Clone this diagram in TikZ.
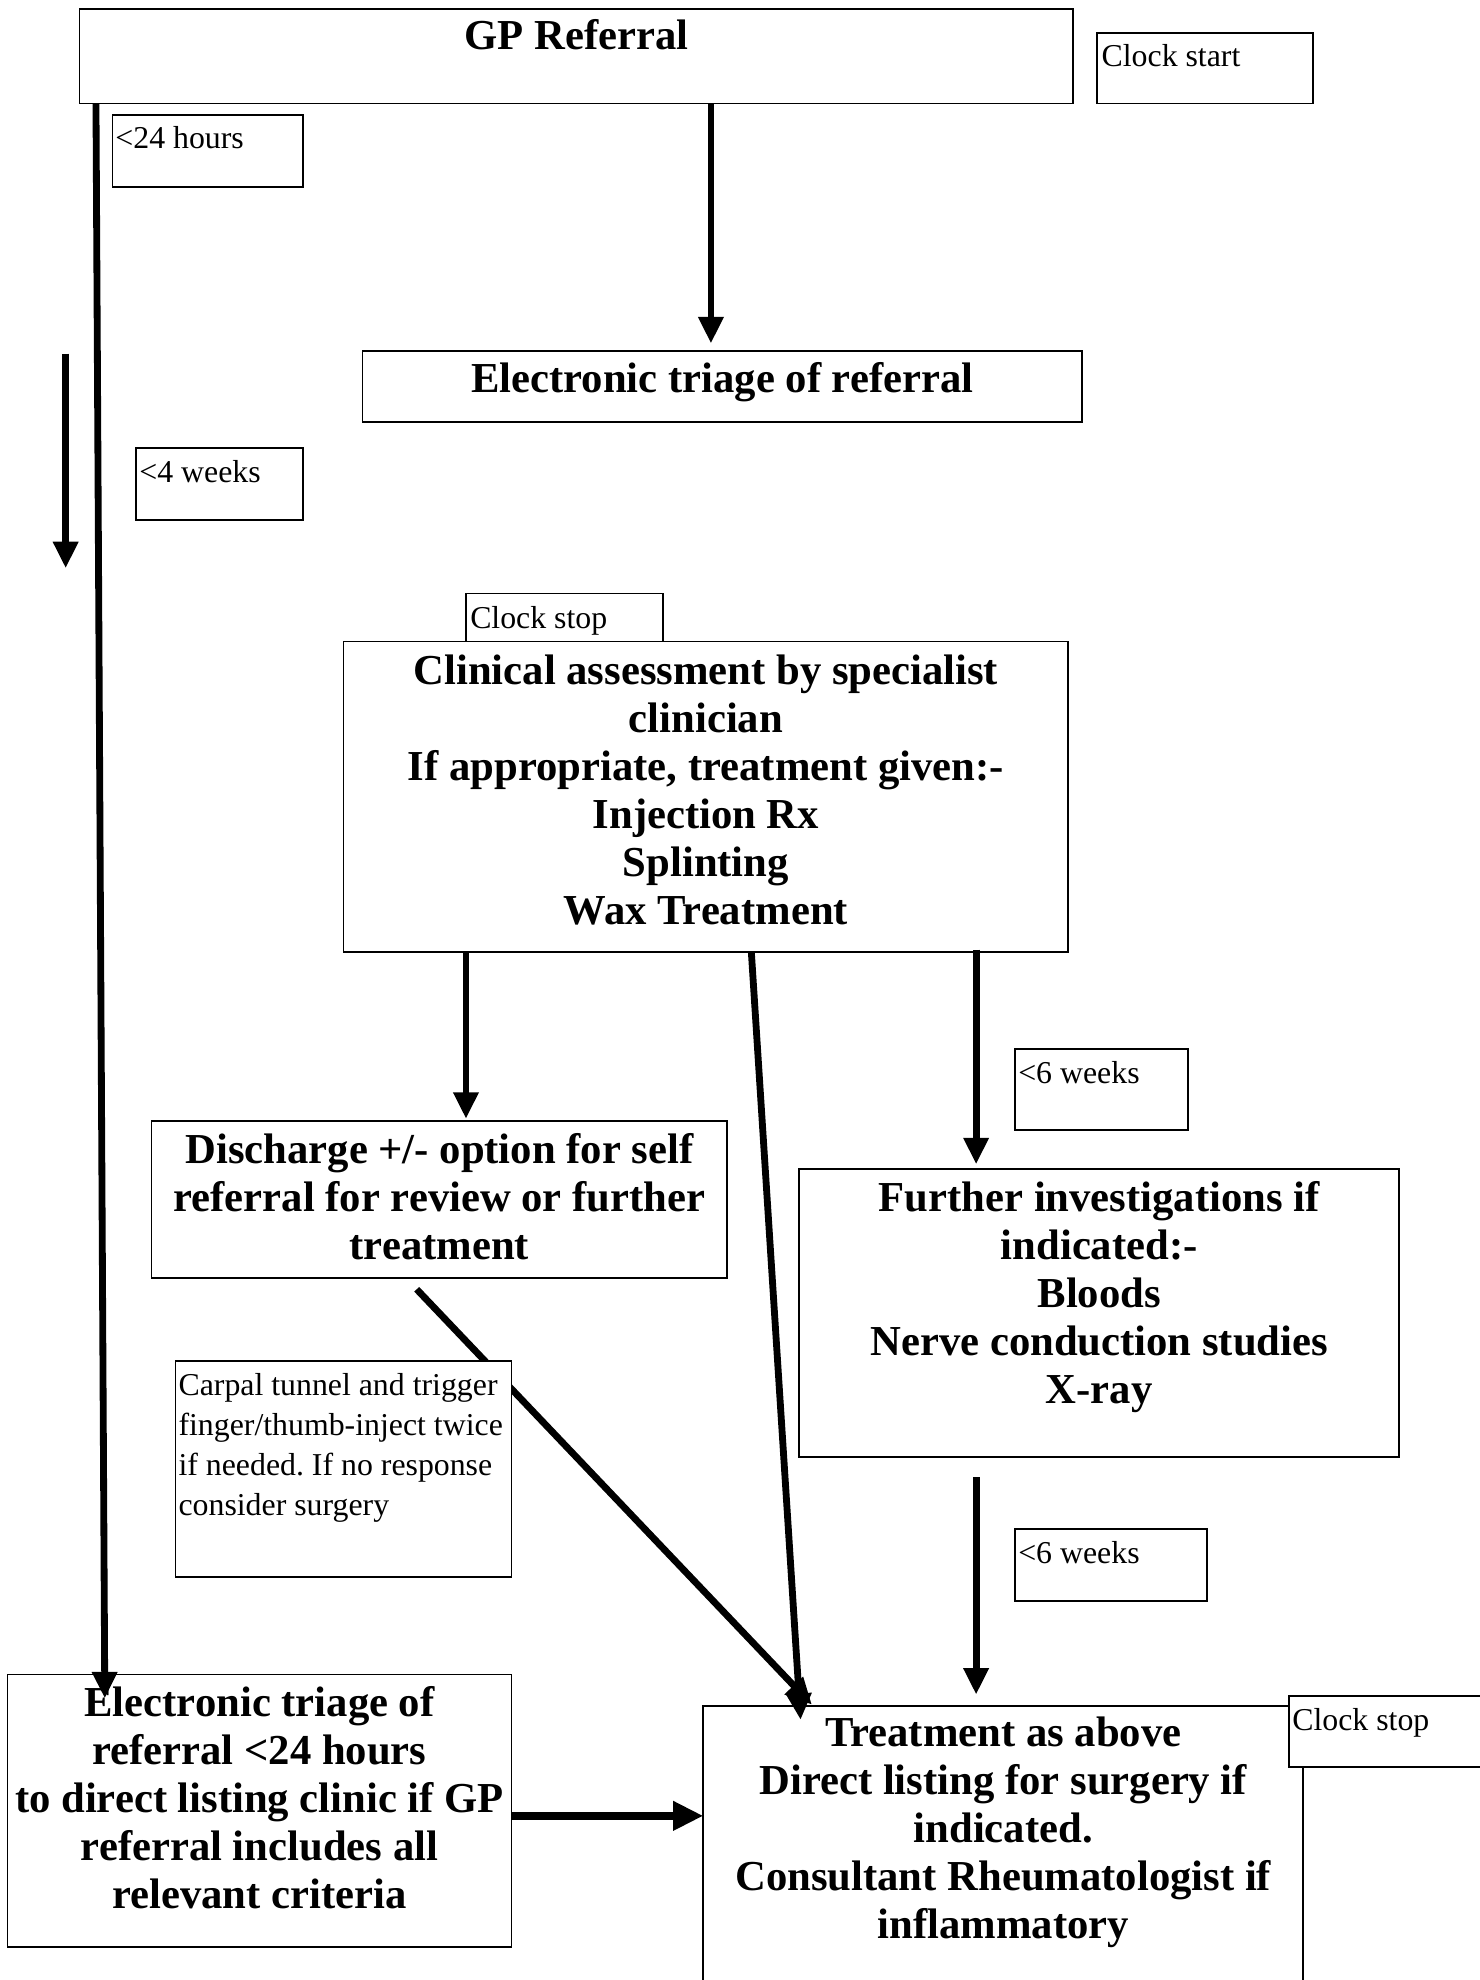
\documentclass[tikz,border=0pt]{standalone}
\usepackage{fontspec}
\setmainfont{Liberation Serif}
\frenchspacing
\usetikzlibrary{arrows.meta,calc}
\tikzset{
  box/.style={draw, line width=0.7pt, fill=white, inner sep=0pt, outer sep=0pt, anchor=north west},
  bigtext/.style={font=\fontsize{16.9}{19}\selectfont\bfseries, align=center, inner sep=0pt, anchor=north},
  smalltext/.style={font=\fontsize{12.6}{15.85}\selectfont, align=left, inner sep=0pt, anchor=north west},
  flow/.style={line width=2.7pt, -{Triangle[length=10.5pt,width=9.5pt]}},
  thickflow/.style={line width=3.1pt, -{Triangle[length=12pt,width=11pt]}}
}
\begin{document}
\begin{tikzpicture}[x=0.5pt,y=-0.5pt]
\useasboundingbox (0,0) rectangle (1172,1568);
\clip (0,0) rectangle (1172,1568);
% boxes
\node[box, minimum width=393.5pt, minimum height=37.5pt] (gp) at (63,7) {};
\node[bigtext] (gpt) at ($(gp.north)+(0,8)$) {GP Referral};
\node[box, minimum width=85.5pt, minimum height=28pt] (cstart) at (869,26) {};
\node[smalltext] (cstartt) at ($(cstart.north west)+(3,8.5)$) {Clock start};
\node[box, minimum width=75.5pt, minimum height=28.5pt] (h24) at (89,91) {};
\node[smalltext] (h24t) at ($(h24.north west)+(2,8.5)$) {<24 hours};
\node[box, minimum width=285pt, minimum height=28pt] (etriage) at (287,278) {};
\node[bigtext] (etriaget) at ($(etriage.north)+(0,9)$) {Electronic triage of referral};
\node[box, minimum width=66pt, minimum height=28.5pt] (w4) at (108,355) {};
\node[smalltext] (w4t) at ($(w4.north west)+(2,9.5)$) {<4 weeks};
\node[box, minimum width=78pt, minimum height=19pt] (cstop) at (369,470) {};
\node[smalltext] (cstopt) at ($(cstop.north west)+(3,9.5)$) {Clock stop};
\node[box, minimum width=287pt, minimum height=123pt] (clinical) at (272,508) {};
\node[bigtext] (clinicalt) at ($(clinical.north)+(0,10)$) {Clinical assessment by specialist\\clinician\\If appropriate, treatment given:-\\Injection Rx\\Splinting\\Wax Treatment};
\node[box, minimum width=68.5pt, minimum height=32pt] (w6a) at (804,831) {};
\node[smalltext] (w6at) at ($(w6a.north west)+(2,9.5)$) {<6 weeks};
\node[box, minimum width=228pt, minimum height=62pt] (discharge) at (120,888) {};
\node[bigtext] (discharget) at ($(discharge.north)+(0,9)$) {Discharge +/- option for self\\referral for review or further\\treatment};
\node[box, minimum width=237.5pt, minimum height=114pt] (further) at (633,926) {};
\node[bigtext] (furthert) at ($(further.north)+(0,9)$) {Further investigations if\\indicated:-\\Bloods\\Nerve conduction studies\\X-ray};
\node[box, minimum width=76pt, minimum height=28.5pt] (w6b) at (804,1211) {};
\node[smalltext] (w6bt) at ($(w6b.north west)+(2,9.5)$) {<6 weeks};
\node[box, minimum width=199.5pt, minimum height=108pt] (etri24) at (6,1326) {};
\node[bigtext] (etri24t) at ($(etri24.north)+(0,9)$) {Electronic triage of\\referral <24 hours\\to direct listing clinic if GP\\referral includes all\\relevant criteria};
\node[box, minimum width=237.5pt, minimum height=115pt] (treat) at (557,1351) {};
\node[bigtext] (treatt) at ($(treat.north)+(0,8)$) {Treatment as above\\Direct listing for surgery if\\indicated.\\Consultant Rheumatologist if\\inflammatory};
\node[box, minimum width=77pt, minimum height=28pt] (cstop2) at (1021,1343) {};
\node[smalltext] (cstop2t) at ($(cstop2.north west)+(2,9.5)$) {Clock stop};
% connectors
\coordinate (sa) at (52,280);
\coordinate (sb) at (52,450);
\draw[flow] (sa) -- (sb);
\draw[flow] ($(gp.south west)+(13,0)$) -- ($(etri24.north west)+(77,19)$);
\draw[flow] ($(gp.south west)+(500,0)$) -- ($(etriage.north west)+(276,-6)$);
\draw[flow] ($(clinical.south west)+(97,0)$) -- ($(discharge.north west)+(249,-2)$);
\draw[flow] ($(clinical.south west)+(323,0)$) -- ($(treat.north west)+(77,11)$);
\draw[flow] ($(clinical.south west)+(501,-2)$) -- ($(further.north west)+(140,-4)$);
\draw[flow] ($(discharge.south west)+(210,9)$) -- ($(treat.north west)+(86,-1)$);
\draw[flow] ($(further.south west)+(140,16)$) -- ($(treat.north west)+(216,-9)$);
\draw[thickflow] ($(etri24.north east)+(0,112)$) -- ($(treat.north west)+(0,87)$);
% note box over the diagonal connector
\node[box, minimum width=133pt, minimum height=85.5pt] (carpal) at (139,1078) {};
\node[smalltext] (carpalt) at ($(carpal.north west)+(2,9.5)$) {Carpal tunnel and trigger\\finger/thumb-inject twice\\if needed. If no response\\consider surgery};
\end{tikzpicture}
\end{document}
